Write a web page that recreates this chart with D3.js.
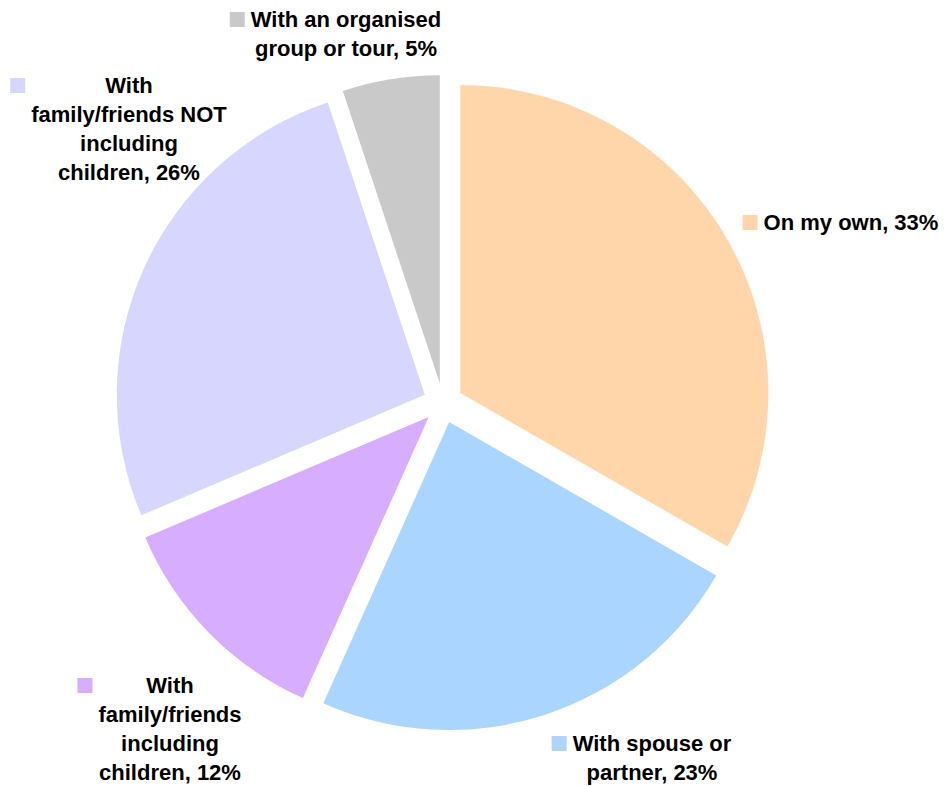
<!DOCTYPE html>
<html><head><meta charset="utf-8">
<script src="https://cdn.jsdelivr.net/npm/d3@7"></script>
<style>body{margin:0;background:#fff}svg{display:block}text{font-family:"Liberation Sans",Arial,sans-serif;font-weight:bold;font-size:22px;fill:#000}</style>
</head><body><svg id="c" width="945" height="786"></svg>
<script>
const categories = ["On my own","With spouse or partner","With family/friends including children","With family/friends NOT including children","With an organised group or tour"];
const values = [33.3, 23.4, 11.9, 26.3, 5.1];
const labelLines = [
  ["On my own, 33%"],
  ["With spouse or","partner, 23%"],
  ["With","family/friends","including","children, 12%"],
  ["With","family/friends NOT","including","children, 26%"],
  ["With an organised","group or tour, 5%"]
];
const colors = ["#FFD6AA","#AAD5FF","#D6ADFF","#D6D6FF","#C9C9C9"];
const labelPos = [[851,230],[652,751],[170,693],[129,93],[346,27]];

const svg = d3.select("#c");
const cx = 443, cy = 403, R = 308, explode = 20;
const pie = d3.pie().sort(null).value(d=>d)(values);
const arc = d3.arc().innerRadius(0).outerRadius(R);
const g = svg.append("g").attr("transform",`translate(${cx},${cy})`);
g.selectAll("path").data(pie).join("path")
  .attr("d",arc).attr("fill",(d,i)=>colors[i])
  .attr("transform",d=>{const a=(d.startAngle+d.endAngle)/2;return `translate(${explode*Math.sin(a)},${-explode*Math.cos(a)})`;});

const lh = 29;
labelLines.forEach((lines,i)=>{
  const [x,y]=labelPos[i];
  const lg = svg.append("g");
  let maxW=0;
  lines.forEach((t,j)=>{
    const tx = lg.append("text").attr("x",x).attr("y",y+j*lh).attr("text-anchor","middle").text(t);
    maxW=Math.max(maxW,tx.node().getComputedTextLength());
  });
  lg.insert("rect","text").attr("x",x-maxW/2-6-15).attr("y",y-15).attr("width",15).attr("height",15).attr("fill",colors[i]);
});
</script></body></html>
